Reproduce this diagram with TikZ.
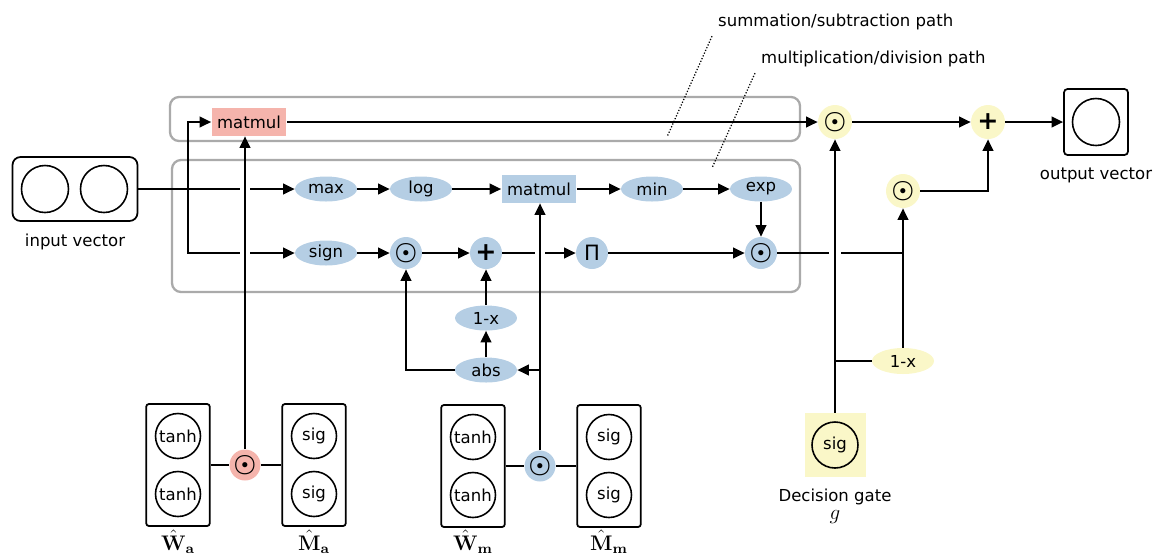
\documentclass[tikz,border=0pt]{standalone}
\usepackage{amsmath}
\usepackage[no-math]{fontspec}
\setmainfont{DejaVu Sans}
\usetikzlibrary{arrows.meta,shapes.geometric}

\definecolor{opblue}{RGB}{181,206,228}
\definecolor{oppink}{RGB}{245,180,172}
\definecolor{gatey}{RGB}{250,247,200}
\definecolor{boxgray}{RGB}{170,170,170}

\tikzset{
  wire/.style={line width=1.1pt},
  arr/.style={wire,-{Triangle[length=6.5pt,width=6pt]}},
  leader/.style={densely dotted,line width=0.7pt},
  pathbox/.style={draw=boxgray,line width=1.3pt,rounded corners=0.18cm},
  opellip/.style={ellipse,fill=opblue,minimum width=1.24cm,minimum height=0.5cm,inner sep=0pt},
  opcirc/.style={circle,fill=opblue,minimum size=0.64cm,inner sep=0pt},
  oprect/.style={rectangle,minimum width=1.5cm,minimum height=0.56cm,inner sep=0pt},
  yelcirc/.style={circle,fill=gatey,minimum size=0.68cm,inner sep=0pt},
  cell/.style={circle,draw,line width=0.9pt,minimum size=0.9cm,inner sep=0pt},
  layerbox/.style={rectangle,draw,line width=1pt,rounded corners=1.5pt,minimum width=1.27cm,minimum height=2.44cm},
  weightlab/.style={anchor=base,font=\large,inner sep=0pt},
}
\newcommand{\odotsym}{{\Large$\boldsymbol{\odot}$}}
\newcommand{\plussym}{{\Large\bfseries +}}

\begin{document}
\begin{tikzpicture}[x=0.02cm,y=-0.02cm,font=\fontsize{9.4}{11}\selectfont]
\useasboundingbox (0,0) rectangle (1160,556);

% input and output vectors
\node[draw,line width=1pt,rounded corners=0.16cm,minimum width=2.5cm,minimum height=1.28cm] (invec) at (75,189) {};
\node[cell,minimum size=0.94cm] (in1) at (45,189) {};
\node[cell,minimum size=0.94cm] (in2) at (104,189) {};
\node (inlab) at (75,242) {input vector};
\node[draw,line width=1pt,rounded corners=2pt,minimum width=1.28cm,minimum height=1.32cm] (outvec) at (1096,122) {};
\node[cell,minimum size=0.94cm] (out1) at (1096,122) {};
\node (outlab) at (1096,175) {output vector};

% path labels
\node[anchor=west] (sumlab) at (712,22) {summation/subtraction path};
\node[anchor=west] (multlab) at (755,59) {multiplication/division path};
\coordinate (sumtip) at (667,137);
\coordinate (multtip) at (712,168);

% summation path
\node[oprect,fill=oppink] (mmred) at (249,122) {matmul};

% multiplication path
\node[opellip] (max) at (326,189) {max};
\node[opellip] (log) at (421,189) {log};
\node[oprect,fill=opblue] (mmblue) at (539,189) {matmul};
\node[opellip] (min) at (652,189) {min};
\node[opellip] (exp) at (761,189) {exp};
\node[opellip] (sign) at (326,253) {sign};
\node[opcirc] (odotA) at (406,253) {\odotsym};
\node[opcirc] (plus) at (486,253) {\plussym};
\node[opcirc] (pi) at (592,253) {{\large Π}};
\node[opcirc] (odotB) at (761,253) {\odotsym};
\node[opellip] (onex) at (486,318) {1-x};
\node[opellip] (abs) at (486,370) {abs};

% gate and output stage
\node[yelcirc] (odotY1) at (835,122) {\odotsym};
\node[yelcirc] (plusY) at (988,122) {\plussym};
\node[yelcirc] (odotY2) at (903,191) {\odotsym};
\node[ellipse,fill=gatey,minimum width=1.24cm,minimum height=0.52cm,inner sep=0pt] (oneyel) at (903,361) {1-x};
\node[rectangle,fill=gatey,minimum width=1.22cm,minimum height=1.28cm] (gate) at (835,445) {};
\node[cell,minimum size=0.92cm] (gatesig) at (835,445) {sig};
\node (gatelab) at (835,497) {Decision gate};
\node[anchor=base] (glab) at (835,519) {\large$g$};

% weight layers
\node[layerbox] (Wa) at (178,465) {};
\node[cell] (Wa1) at (178,436) {tanh};
\node[cell] (Wa2) at (178,494) {tanh};
\node[circle,fill=oppink,minimum size=0.62cm,inner sep=0pt] (odotR) at (245,465) {\odotsym};
\node[layerbox] (Ma) at (314,465) {};
\node[cell] (Ma1) at (314,436) {sig};
\node[cell] (Ma2) at (314,494) {sig};
\node[layerbox] (Wm) at (473,466) {};
\node[cell] (Wm1) at (473,437) {tanh};
\node[cell] (Wm2) at (473,495) {tanh};
\node[opcirc,minimum size=0.62cm] (odotM) at (540,466) {\odotsym};
\node[layerbox] (Mm) at (609,466) {};
\node[cell] (Mm1) at (609,437) {sig};
\node[cell] (Mm2) at (609,495) {sig};
\node[weightlab] (Walab) at (178,550) {$\hat{\mathbf{W}}_{\mathbf{a}}$};
\node[weightlab] (Malab) at (314,550) {$\hat{\mathbf{M}}_{\mathbf{a}}$};
\node[weightlab] (Wmlab) at (473,550) {$\hat{\mathbf{W}}_{\mathbf{m}}$};
\node[weightlab] (Mmlab) at (609,550) {$\hat{\mathbf{M}}_{\mathbf{m}}$};

% junctions and line gaps
\coordinate (jin) at (188,189);
\coordinate (gin1) at (240,189);
\coordinate (gin2) at (250,189);
\coordinate (gsg1) at (240,253);
\coordinate (gsg2) at (250,253);
\coordinate (gpi1) at (535,253);
\coordinate (gpi2) at (545,253);
\coordinate (gdg1) at (829,253);
\coordinate (gdg2) at (841,253);
\coordinate (jmul) at (903,253);
\coordinate (jabs) at (540,370);
\coordinate (jgate) at (835,361);

% path boxes
\draw[pathbox] (170,97) rectangle (800,141);
\draw[pathbox] (172,160) rectangle (800,292);
\draw[leader] (sumlab.south west) -- (sumtip);
\draw[leader] (multlab.south west) -- (multtip);

% input split
\draw[wire] (invec) -- (gin1);
\draw[arr] (gin2) -- (max);
\draw[arr] (jin) |- (mmred);
\draw[wire] (jin) |- (gsg1);
\draw[arr] (gsg2) -- (sign);

% multiplication path
\draw[arr] (max) -- (log);
\draw[arr] (log) -- (mmblue);
\draw[arr] (mmblue) -- (min);
\draw[arr] (min) -- (exp);
\draw[arr] (exp) -- (odotB);
\draw[arr] (sign) -- (odotA);
\draw[arr] (odotA) -- (plus);
\draw[wire] (plus) -- (gpi1);
\draw[arr] (gpi2) -- (pi);
\draw[arr] (pi) -- (odotB);
\draw[arr] (abs) -- (onex);
\draw[arr] (onex) -- (plus);
\draw[arr] (abs) -| (odotA);

% weights
\draw[wire] (Wa) -- (odotR) -- (Ma);
\draw[arr] (odotR) -- (odotR |- mmred.south);
\draw[wire] (Wm) -- (odotM) -- (Mm);
\draw[arr] (odotM) -- (odotM |- mmblue.south);
\draw[arr] (jabs) -- (abs);

% gating
\draw[wire] (odotB) -- (gdg1);
\draw[wire] (gdg2) -- (jmul);
\draw[arr] (gate) -- (odotY1);
\draw[wire] (jgate) -- (oneyel);
\draw[arr] (oneyel) -- (odotY2);
\draw[arr] (mmred) -- (odotY1);
\draw[arr] (odotY1) -- (plusY);
\draw[arr] (odotY2) -| (plusY);
\draw[arr] (plusY) -- (outvec);
\end{tikzpicture}
\end{document}
